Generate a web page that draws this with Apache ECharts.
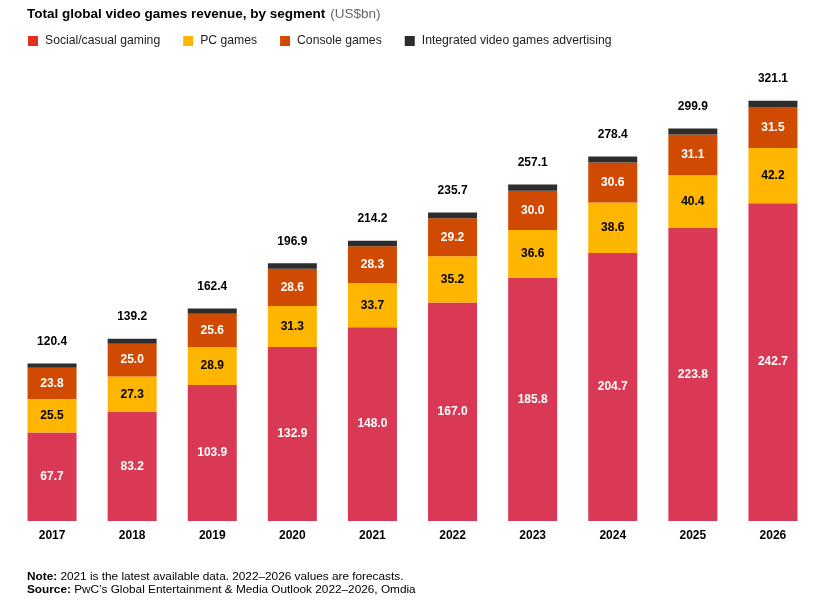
<!DOCTYPE html>
<html><head><meta charset="utf-8">
<script src="https://cdn.jsdelivr.net/npm/echarts@6/dist/echarts.min.js"></script>
<style>html,body{margin:0;padding:0;background:#fff}#c{width:823px;height:604px}</style>
</head><body><div id="c"></div>
<script>
const years = ['2017','2018','2019','2020','2021','2022','2023','2024','2025','2026'];
const social = [67.7, 83.2, 103.9, 132.9, 148.0, 167.0, 185.8, 204.7, 223.8, 242.7];
const pc = [25.5, 27.3, 28.9, 31.3, 33.7, 35.2, 36.6, 38.6, 40.4, 42.2];
const console_ = [23.8, 25.0, 25.6, 28.6, 28.3, 29.2, 30.0, 30.6, 31.1, 31.5];
const totals = [120.4, 139.2, 162.4, 196.9, 214.2, 235.7, 257.1, 278.4, 299.9, 321.1];
const advertising = [3.4, 3.7, 4.0, 4.1, 4.2, 4.3, 4.7, 4.5, 4.6, 4.7];

const FONT = '"Liberation Sans", Arial, sans-serif';
const chart = echarts.init(document.getElementById('c'));
const inLabel = (color) => ({show:true, position:'inside', color:color, fontFamily:FONT, fontWeight:'bold', fontSize:12, formatter:(p)=>p.value.toFixed(1)});
chart.setOption({
  animation:false,
  textStyle:{fontFamily:FONT},
  title:{
    text:'{b|Total global video games revenue, by segment} {n|(US$bn)}',
    left:27, top:5, padding:0,
    textStyle:{fontWeight:'normal', rich:{
      b:{fontFamily:FONT, fontWeight:'bold', fontSize:13.5, color:'#000'},
      n:{fontFamily:FONT, fontWeight:'normal', fontSize:13.5, color:'#666'}
    }}
  },
  legend:{
    left:28, top:35, padding:0, itemWidth:10, itemHeight:10, itemGap:23, icon:'rect',
    textStyle:{fontFamily:FONT, fontSize:12.2, color:'#222', padding:[0,0,0,2]},
    data:[
      {name:'Social/casual gaming', itemStyle:{color:'#E0301E'}},
      {name:'PC games'},
      {name:'Console games'},
      {name:'Integrated video games advertising'}
    ]
  },
  grid:{left:12, right:10, top:76, bottom:83, containLabel:false},
  xAxis:{type:'category', data:years, axisLine:{show:false}, axisTick:{show:false},
    axisLabel:{fontFamily:FONT, fontWeight:'bold', fontSize:12, color:'#000', margin:9}},
  yAxis:{type:'value', min:0, max:340, show:false, splitLine:{show:false}},
  series:[
    {name:'Social/casual gaming', type:'bar', stack:'a', barWidth:49, data:social, itemStyle:{color:'#D93954'}, label:inLabel('#fff')},
    {name:'PC games', type:'bar', stack:'a', data:pc, itemStyle:{color:'#FFB600'}, label:inLabel('#000')},
    {name:'Console games', type:'bar', stack:'a', data:console_, itemStyle:{color:'#D04A02'}, label:inLabel('#fff')},
    {name:'Integrated video games advertising', type:'bar', stack:'a', data:advertising, itemStyle:{color:'#2D2D2D'},
      label:{show:true, position:'top', distance:16, color:'#000', fontFamily:FONT, fontWeight:'bold', fontSize:12,
        formatter:(p)=>totals[p.dataIndex].toFixed(1)}}
  ],
  graphic:[
    {type:'text', left:27, top:571, style:{rich:{b:{fontFamily:FONT,fontWeight:'bold',fontSize:11.8,fill:'#000'},n:{fontFamily:FONT,fontSize:11.8,fill:'#000'}},
      text:'{b|Note:}{n| 2021 is the latest available data. 2022–2026 values are forecasts.}'}},
    {type:'text', left:27, top:584, style:{rich:{b:{fontFamily:FONT,fontWeight:'bold',fontSize:11.8,fill:'#000'},n:{fontFamily:FONT,fontSize:11.8,fill:'#000'}},
      text:'{b|Source:}{n| PwC’s Global Entertainment & Media Outlook 2022–2026, Omdia}'}}
  ]
});
</script></body></html>
